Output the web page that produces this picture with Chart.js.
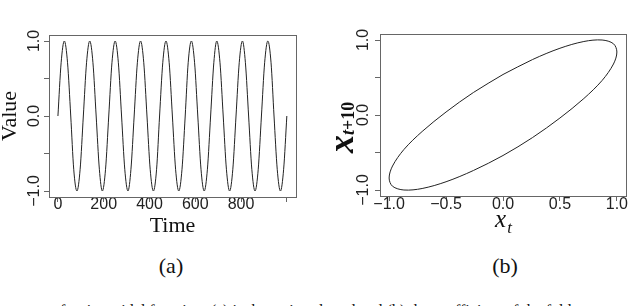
<!DOCTYPE html>
<html>
<head>
<meta charset="utf-8">
<script src="https://cdn.jsdelivr.net/npm/chart.js@4.4.1/dist/chart.umd.min.js"></script>
<style>
  html, body { margin: 0; padding: 0; background: #fff; }
  #page { position: relative; width: 640px; height: 306px; overflow: hidden; }
  .panel { position: absolute; top: 0; width: 320px; height: 240px; }
  .cap { position: absolute; top: 253px; font-family: 'Liberation Serif', serif; font-size: 22px; color: #111; transform: translateX(-50%); }
  #note { position: absolute; left: 52px; top: 302px; white-space: nowrap; font-family: 'Liberation Serif', serif; font-size: 16px; color: #111; }
</style>
</head>
<body>
<div id="page">
  <div class="panel" style="left:0"><canvas id="seriesChart" width="320" height="240"></canvas></div>
  <div class="panel" style="left:320px"><canvas id="lagChart" width="320" height="240"></canvas></div>
  <div class="cap" style="left:171px">(a)</div>
  <div class="cap" style="left:505px">(b)</div>
  <div id="note">of a sinusoidal function. (a) is the series plotted and (b) the coefficient of the fold</div>
</div>
<script>
// (a) time series, read at every eighth of a period
const timeSteps = [0, 14, 28, 42, 56, 69, 83, 97, 111, 125, 139, 153, 167, 181, 194, 208, 222, 236,
  250, 264, 278, 292, 306, 319, 333, 347, 361, 375, 389, 403, 417, 431, 444, 458, 472, 486,
  500, 514, 528, 542, 556, 569, 583, 597, 611, 625, 639, 653, 667, 681, 694, 708, 722, 736,
  750, 764, 778, 792, 806, 819, 833, 847, 861, 875, 889, 903, 917, 931, 944, 958, 972, 986, 1000];
const seriesValues = [0, 0.71, 1, 0.71, 0, -0.71, -1, -0.71, 0, 0.71, 1, 0.71, 0, -0.71, -1, -0.71,
  0, 0.71, 1, 0.71, 0, -0.71, -1, -0.71, 0, 0.71, 1, 0.71, 0, -0.71, -1, -0.71,
  0, 0.71, 1, 0.71, 0, -0.71, -1, -0.71, 0, 0.71, 1, 0.71, 0, -0.71, -1, -0.71,
  0, 0.71, 1, 0.71, 0, -0.71, -1, -0.71, 0, 0.71, 1, 0.71, 0, -0.71, -1, -0.71,
  0, 0.71, 1, 0.71, 0, -0.71, -1, -0.71, 0];
const timeTicks = [0, 200, 400, 600, 800, 1000];
const timeTickLabels = ['0', '200', '400', '600', '800', ''];
const valueTicks = [-1, -0.5, 0, 0.5, 1];
const valueTickLabels = ['\u22121.0', '', '0.0', '', '1.0'];

// (b) lag plot x_t against x_t+10
const lagX = [0, 0.26, 0.5, 0.71, 0.87, 0.97, 1, 0.97, 0.87, 0.71, 0.5, 0.26,
  0, -0.26, -0.5, -0.71, -0.87, -0.97, -1, -0.97, -0.87, -0.71, -0.5, -0.26, 0];
const lagY = [0.54, 0.74, 0.89, 0.98, 1, 0.95, 0.84, 0.68, 0.46, 0.22, -0.04, -0.3,
  -0.54, -0.74, -0.89, -0.98, -1, -0.95, -0.84, -0.68, -0.46, -0.22, 0.04, 0.3, 0.54];
const lagTicks = [-1, -0.5, 0, 0.5, 1];
const lagXTickLabels = ['\u22121.0', '\u22120.5', '0.0', '0.5', '1.0'];
const lagYTickLabels = ['\u22121.0', '', '0.0', '', '1.0'];

const inkColor = '#222';
const boxColor = '#666';
const tickFont = { family: 'Liberation Sans', size: 16 };

// box round the plot area, like R's box()
const frameBox = {
  id: 'frameBox',
  afterDatasetsDraw(chart) {
    const { ctx, chartArea: a } = chart;
    ctx.save();
    ctx.strokeStyle = boxColor;
    ctx.lineWidth = 1;
    ctx.strokeRect(Math.round(a.left) + 0.5, Math.round(a.top) + 0.5,
      Math.round(a.right - a.left), Math.round(a.bottom - a.top));
    ctx.restore();
  }
};

function fixedAxis(values, labels, opts) {
  return Object.assign({
    type: 'linear',
    afterBuildTicks: scale => { scale.ticks = values.map(v => ({ value: v })); },
    border: { display: false },
    grid: { drawOnChartArea: false, drawTicks: true, tickLength: 5, tickColor: boxColor },
    ticks: {
      autoSkip: false, font: tickFont, color: inkColor,
      callback: v => labels[values.indexOf(v)]
    }
  }, opts);
}

Chart.defaults.animation = false;
Chart.defaults.plugins.legend.display = false;
Chart.defaults.plugins.tooltip.enabled = false;

// (a)
const xA = fixedAxis(timeTicks, timeTickLabels, { min: -39, max: 1040 });
xA.afterFit = s => { s.height = 43; };
xA.ticks.padding = -7;
xA.ticks.maxRotation = 0;
xA.title = { display: true, text: 'Time', color: '#111',
  font: { family: 'Liberation Serif', size: 22 }, padding: { top: 0, bottom: 1 } };

const yA = fixedAxis(valueTicks, valueTickLabels, { min: -1.08, max: 1.08 });
yA.afterFit = s => { s.width = 49; };
Object.assign(yA.ticks, { minRotation: 90, maxRotation: 90, crossAlign: 'center', padding: -6 });
yA.title = { display: true, text: 'Value', color: '#111',
  font: { family: 'Liberation Serif', size: 22 }, padding: { top: -3, bottom: 0 } };

new Chart(document.getElementById('seriesChart'), {
  type: 'line',
  data: {
    datasets: [{
      data: timeSteps.map((t, i) => ({ x: t, y: seriesValues[i] })),
      borderColor: inkColor,
      borderWidth: 1,
      pointRadius: 0,
      cubicInterpolationMode: 'monotone'
    }]
  },
  options: {
    responsive: false,
    devicePixelRatio: 1,
    layout: { padding: { top: 35, right: 24, left: 0, bottom: 0 } },
    scales: { x: xA, y: yA }
  },
  plugins: [frameBox]
});

// (b) titles with sub-scripts drawn as text pieces
const lagTitles = {
  id: 'lagTitles',
  afterDraw(chart) {
    const { ctx, chartArea: a } = chart;
    ctx.save();
    ctx.fillStyle = '#111';
    ctx.textBaseline = 'alphabetic';
    ctx.textAlign = 'left';
    // x axis: x_t
    ctx.font = 'italic 25px "Liberation Serif"';
    const wx = ctx.measureText('x').width;
    ctx.font = 'italic 17px "Liberation Serif"';
    const wt = ctx.measureText('t').width;
    let x0 = (a.left + a.right) / 2 - (wx + wt) / 2;
    ctx.font = 'italic 25px "Liberation Serif"';
    ctx.fillText('x', x0, 227);
    ctx.font = 'italic 17px "Liberation Serif"';
    ctx.fillText('t', x0 + wx + 1, 233);
    // y axis: x_t+10, rotated
    ctx.translate(33, 153);
    ctx.rotate(-Math.PI / 2);
    ctx.font = 'bold italic 36px "Liberation Serif"';
    const wy = ctx.measureText('x').width;
    ctx.fillText('x', 0, 0);
    ctx.font = 'bold italic 18px "Liberation Serif"';
    ctx.fillText('t', wy, 1);
    const wt2 = ctx.measureText('t').width;
    ctx.font = 'bold 18px "Liberation Serif"';
    ctx.fillText('+10', wy + wt2, 1);
    ctx.restore();
  }
};

const xB = fixedAxis(lagTicks, lagXTickLabels, { min: -1.08, max: 1.08 });
xB.afterFit = s => { s.height = 44; };
xB.ticks.padding = -6;
xB.ticks.maxRotation = 0;

const yB = fixedAxis(lagTicks, lagYTickLabels, { min: -1.08, max: 1.08 });
yB.afterFit = s => { s.width = 60; };
Object.assign(yB.ticks, { minRotation: 90, maxRotation: 90, crossAlign: 'center', padding: -4 });

new Chart(document.getElementById('lagChart'), {
  type: 'scatter',
  data: {
    datasets: [{
      data: lagX.map((v, i) => ({ x: v, y: lagY[i] })),
      showLine: true,
      borderColor: inkColor,
      borderWidth: 1,
      pointRadius: 0,
      tension: 0.33
    }]
  },
  options: {
    responsive: false,
    devicePixelRatio: 1,
    layout: { padding: { top: 34, right: 14, left: 0, bottom: 0 } },
    scales: { x: xB, y: yB }
  },
  plugins: [frameBox, lagTitles]
});
</script>
</body>
</html>
